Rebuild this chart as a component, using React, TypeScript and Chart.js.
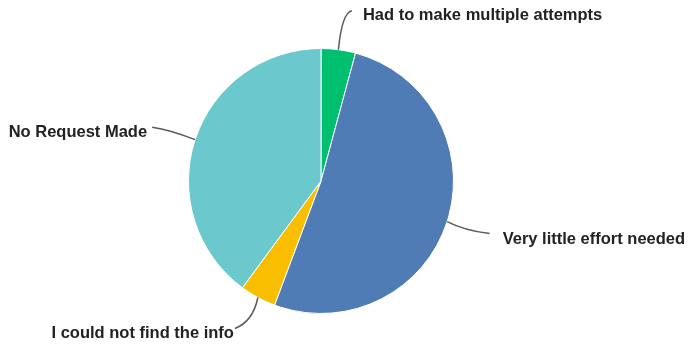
import React, { useEffect, useRef } from "react";
import { Chart, registerables } from "chart.js";

Chart.register(...registerables);

const categories = [
  "Had to make multiple attempts",
  "Very little effort needed",
  "I could not find the info",
  "No Request Made",
];
const values = [4.2, 51.5, 4.4, 39.9];
const colors = ["#00BF6F", "#507CB6", "#F9BE00", "#6BC8CD"];

// leader line geometry (offsets from slice's outer midpoint) and text placement
const leaders = [
  { ctrl: [3.5, -37], end: [13.5, -39], text: [11, 5], align: "left" },
  { ctrl: [17.5, 9], end: [42.5, 12], text: [13, 6], align: "left" },
  { ctrl: [-5, 24], end: [-23, 31], text: [-1, 5], align: "right" },
  { ctrl: [-25, -10], end: [-43, -12.5], text: [-5, 5], align: "right" },
];

const leaderPlugin = {
  id: "leaderLabels",
  afterDraw(chart: any) {
    const ctx = chart.ctx;
    const meta = chart.getDatasetMeta(0);
    meta.data.forEach((arc: any, i: number) => {
      const p = arc.getProps(["x", "y", "startAngle", "endAngle", "outerRadius"], true);
      const mid = (p.startAngle + p.endAngle) / 2;
      const sx = p.x + Math.cos(mid) * p.outerRadius;
      const sy = p.y + Math.sin(mid) * p.outerRadius;
      const L = leaders[i];
      const cx = sx + L.ctrl[0];
      const cy = sy + L.ctrl[1];
      const ex = sx + L.end[0];
      const ey = sy + L.end[1];
      ctx.save();
      ctx.strokeStyle = "#5a5a5a";
      ctx.lineWidth = 1.5;
      ctx.beginPath();
      ctx.moveTo(sx, sy);
      ctx.quadraticCurveTo(cx, cy, ex, ey);
      ctx.stroke();
      ctx.fillStyle = "#222222";
      ctx.font = "bold 16.5px 'Liberation Sans', Arial, sans-serif";
      ctx.textBaseline = "middle";
      ctx.textAlign = L.align;
      ctx.fillText(categories[i], ex + L.text[0], ey + L.text[1]);
      ctx.restore();
    });
  },
};

export default function App() {
  const ref = useRef<HTMLCanvasElement>(null);
  useEffect(() => {
    if (!ref.current) return;
    const chart = new Chart(ref.current, {
      type: "pie",
      data: {
        labels: categories,
        datasets: [
          {
            data: values,
            backgroundColor: colors,
            borderColor: "#ffffff",
            borderWidth: 1,
          },
        ],
      },
      options: {
        animation: false,
        responsive: false,
        layout: { padding: { top: 48, bottom: 33, left: 188, right: 237 } },
        plugins: { legend: { display: false }, tooltip: { enabled: false } },
      },
      plugins: [leaderPlugin],
    });
    return () => chart.destroy();
  }, []);
  return (
    <div style={{ position: "fixed", left: 0, top: 0, width: 691, height: 347, background: "#fff" }}>
      <canvas ref={ref} width={691} height={347} />
    </div>
  );
}
